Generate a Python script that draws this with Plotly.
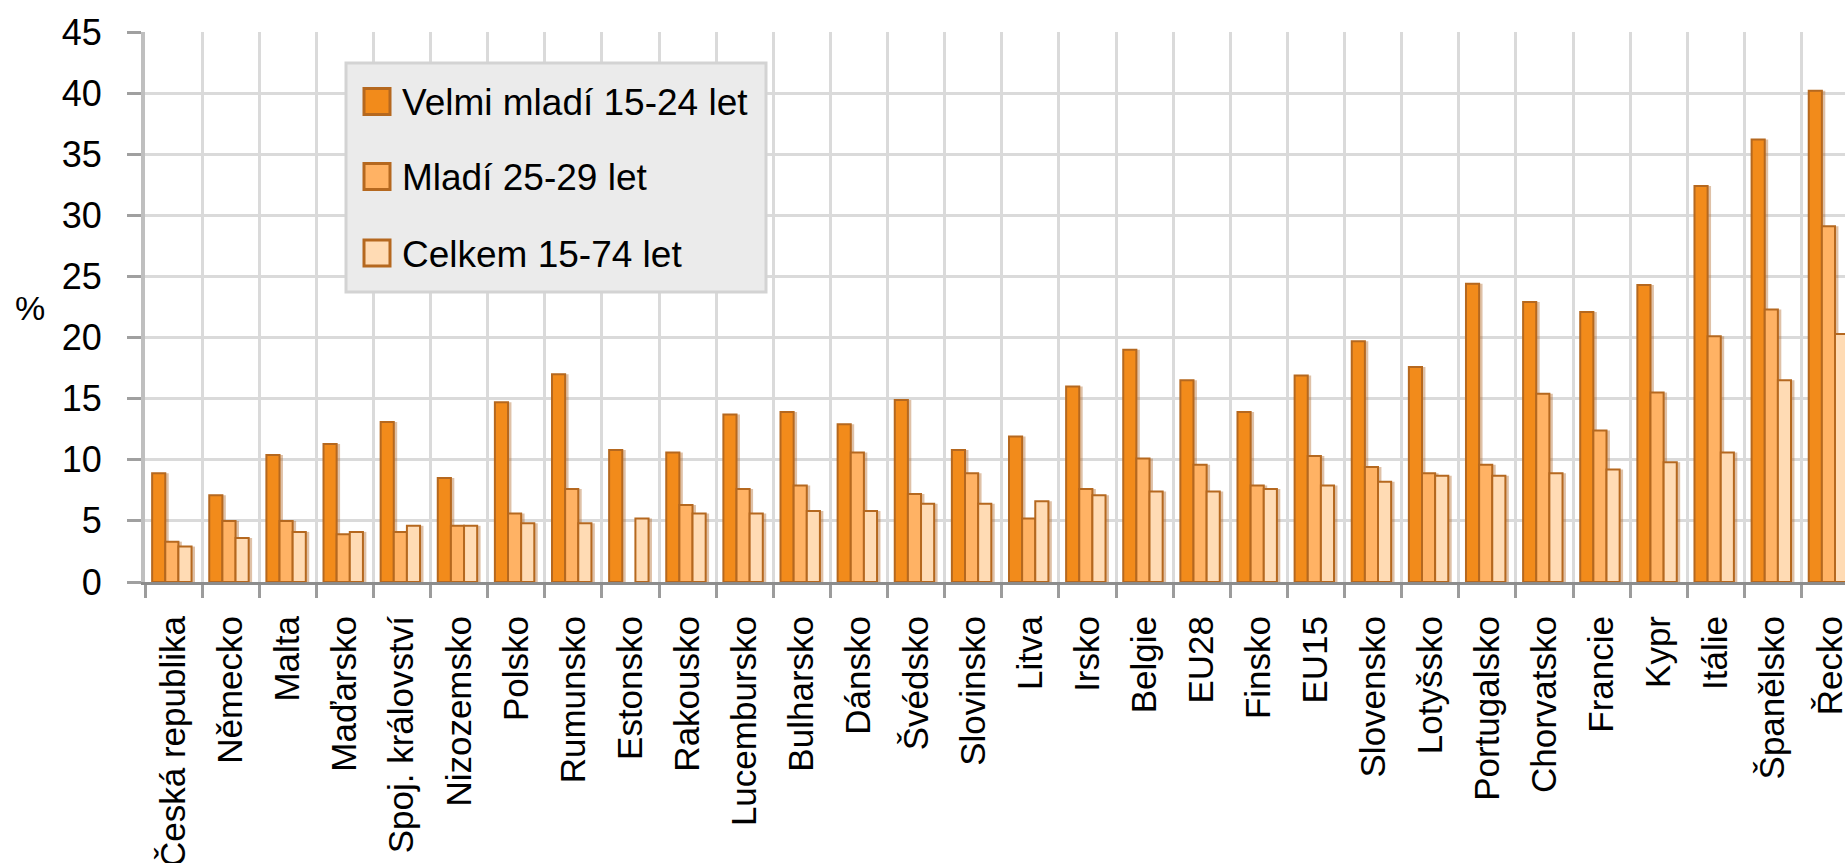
import plotly.graph_objects as go

categories = ["Česká republika", "Německo", "Malta", "Maďarsko", "Spoj. království",
              "Nizozemsko", "Polsko", "Rumunsko", "Estonsko", "Rakousko",
              "Lucembursko", "Bulharsko", "Dánsko", "Švédsko", "Slovinsko",
              "Litva", "Irsko", "Belgie", "EU28", "Finsko", "EU15", "Slovensko",
              "Lotyšsko", "Portugalsko", "Chorvatsko", "Francie", "Kypr",
              "Itálie", "Španělsko", "Řecko"]

velmi_mladi = [8.9, 7.1, 10.4, 11.3, 13.1, 8.5, 14.7, 17.0, 10.8, 10.6,
               13.7, 13.9, 12.9, 14.9, 10.8, 11.9, 16.0, 19.0, 16.5, 13.9,
               16.9, 19.7, 17.6, 24.4, 22.9, 22.1, 24.3, 32.4, 36.2, 40.2]
mladi = [3.3, 5.0, 5.0, 3.9, 4.1, 4.6, 5.6, 7.6, None, 6.3,
         7.6, 7.9, 10.6, 7.2, 8.9, 5.2, 7.6, 10.1, 9.6, 7.9,
         10.3, 9.4, 8.9, 9.6, 15.4, 12.4, 15.5, 20.1, 22.3, 29.1]
celkem = [2.9, 3.6, 4.1, 4.1, 4.6, 4.6, 4.8, 4.8, 5.2, 5.6,
          5.6, 5.8, 5.8, 6.4, 6.4, 6.6, 7.1, 7.4, 7.4, 7.6,
          7.9, 8.2, 8.7, 8.7, 8.9, 9.2, 9.8, 10.6, 16.5, 20.3]

series_names = ["Velmi mladí 15-24 let", "Mladí 25-29 let", "Celkem 15-74 let"]
series_values = [velmi_mladi, mladi, celkem]
colors = ["#F28B1B", "#FFB264", "#FFDBB4"]
outline = "#B5681F"
shadow = "rgba(175,100,35,0.40)"

y_ticks = [0, 5, 10, 15, 20, 25, 30, 35, 40, 45]

W, H = 1845, 863
ML, MR, MT, MB = 145, 0, 32, 281
FONT = "Liberation Sans, Arial, sans-serif"

bar_w = 0.23
offsets = [-0.375, -0.145, 0.085]
shadow_shift = 0.06

fig = go.Figure()
for vals, off in zip(series_values, offsets):
    fig.add_trace(go.Bar(x=categories, y=vals, width=bar_w, offset=off + shadow_shift,
                         marker=dict(color=shadow, line=dict(width=0)),
                         showlegend=False, hoverinfo="skip"))
for name, vals, col, off in zip(series_names, series_values, colors, offsets):
    fig.add_trace(go.Bar(x=categories, y=vals, name=name, width=bar_w, offset=off,
                         marker=dict(color=col, line=dict(color=outline, width=2)),
                         showlegend=False))

pw = W - ML - MR
ph = H - MT - MB


def px(xp):
    return (xp - ML) / pw


def py(yp):
    return (H - MB - yp) / ph


shapes = [dict(type="rect", xref="paper", yref="paper",
               x0=px(346), x1=px(766), y0=py(292), y1=py(63),
               fillcolor="#EBEBEB", line=dict(color="#D3D3D3", width=3), layer="above")]
annotations = []
row_centers = [101.5, 176.5, 253]
for name, col, rc in zip(series_names, colors, row_centers):
    shapes.append(dict(type="rect", xref="paper", yref="paper",
                       x0=px(364), x1=px(390), y0=py(rc + 13), y1=py(rc - 13),
                       fillcolor=col, line=dict(color=outline, width=3), layer="above"))
    annotations.append(dict(text=name, xref="paper", yref="paper",
                            x=px(400), y=py(rc + 1), xanchor="left", yanchor="middle",
                            showarrow=False, font=dict(family=FONT, size=37, color="#000")))

annotations.append(dict(text="%", xref="paper", yref="paper", x=px(30), y=py(308),
                        xanchor="center", yanchor="middle", showarrow=False,
                        font=dict(family=FONT, size=34, color="#000")))

fig.update_layout(
    width=W, height=H, autosize=False,
    margin=dict(l=ML, r=MR, t=MT, b=MB, autoexpand=False),
    paper_bgcolor="white", plot_bgcolor="white",
    barmode="overlay",
    shapes=shapes, annotations=annotations,
    showlegend=False,
    font=dict(family=FONT, color="#000"),
)
fig.update_xaxes(
    type="category", range=[-0.5, 29.26], automargin=False,
    tickson="boundaries", ticks="outside", ticklen=13, tickwidth=3, tickcolor="#9C9C9C",
    showgrid=True, gridcolor="#DADADA", gridwidth=3,
    showline=True, linecolor="#8C8C8C", linewidth=3,
    tickangle=-90, tickfont=dict(family=FONT, size=35, color="#000"),
    ticklabelstandoff=17,
)
fig.update_yaxes(
    range=[0, 45], tickvals=y_ticks, ticktext=[str(v) for v in y_ticks], automargin=False,
    ticks="outside", ticklen=14, tickwidth=3, tickcolor="#A0A0A0",
    showgrid=True, gridcolor="#DADADA", gridwidth=3,
    showline=True, linecolor="#BFBFBF", linewidth=4,
    zeroline=False,
    tickfont=dict(family=FONT, size=36, color="#000"),
    ticklabelstandoff=18,
)

fig.write_html("out.html", config={"displayModeBar": False},
               post_script="document.body.style.margin='0';document.body.style.overflow='hidden';")
